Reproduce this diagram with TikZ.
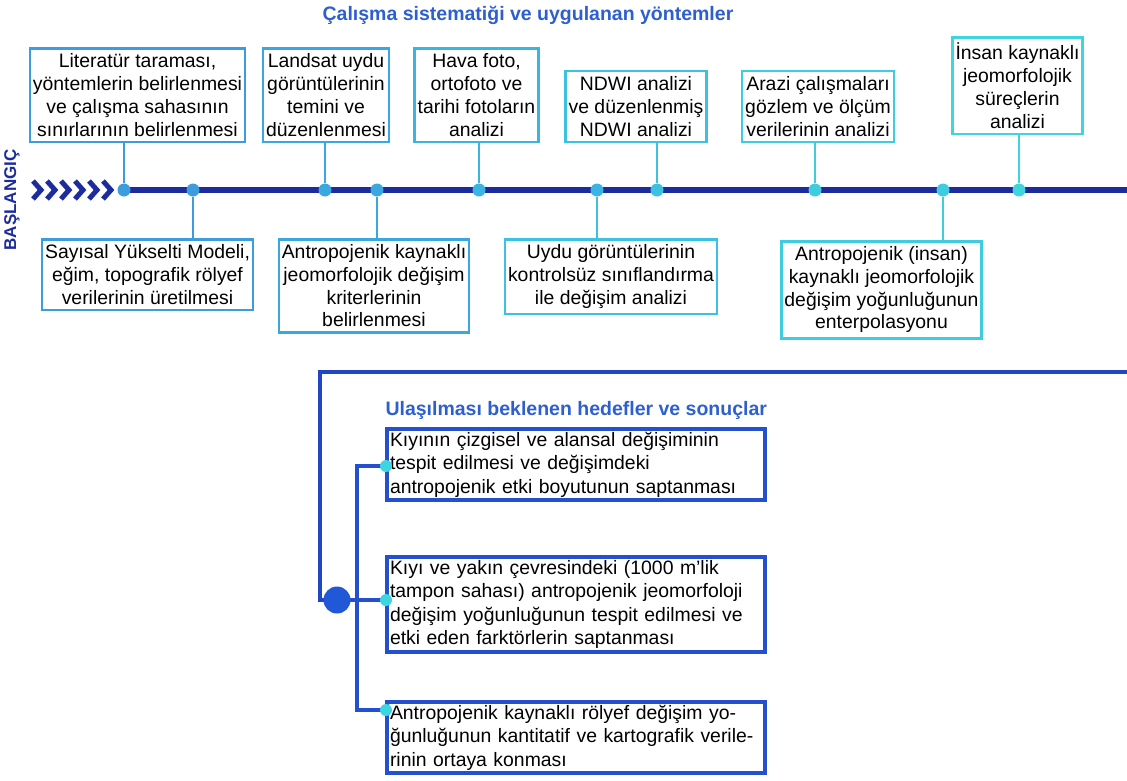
\documentclass[tikz,border=0pt]{standalone}
\usepackage{fontspec}
\setmainfont{Liberation Sans}
\usetikzlibrary{positioning, backgrounds}

\definecolor{navy}{HTML}{1C2C9C}
\definecolor{lineblue}{HTML}{2046C4}
\definecolor{titleblue}{HTML}{2E5FD0}
\definecolor{goalblue}{HTML}{2450D0}
\definecolor{bigdotblue}{HTML}{2158D8}
\definecolor{ca}{HTML}{3C9CDC}
\definecolor{cb}{HTML}{3AA8DE}
\definecolor{cc}{HTML}{3AB4E0}
\definecolor{cd}{HTML}{3CC2E0}
\definecolor{ce}{HTML}{3ECCDE}
\definecolor{cf}{HTML}{40D4DC}
\definecolor{tipcyan}{HTML}{3CD6E0}

\begin{document}
\begin{tikzpicture}[x=1pt, y=-1pt,
    box/.style={draw, rectangle, line width=2.5pt, fill=white, align=center, inner xsep=3pt,
        inner ysep=5.5pt, font=\fontsize{19.4}{22.7}\selectfont},
    goal/.style={draw=goalblue, rectangle, line width=4pt, align=left, text width=372pt,
        inner sep=3pt, font=\fontsize{19.4}{23.5}\selectfont},
    dot/.style={circle, inner sep=0pt, minimum size=13pt},
    tip/.style={circle, inner sep=0pt, minimum size=12pt, fill=tipcyan},
    link/.style={line width=2.5pt},
    heading/.style={text=titleblue, font=\bfseries\fontsize{19.5}{22}\selectfont}]
    \useasboundingbox (0,0) rectangle (1127,780);

    % Titles
    \node (title) [heading] at (528,15) {Çalışma sistematiği ve uygulanan yöntemler};
    \node (start) [text=navy, rotate=90, font=\bfseries\fontsize{17}{20}\selectfont] at (12,200) {BAŞLANGIÇ};

    % Chevrons
    \foreach \x in {33,47,61,75,89,103}
        \draw[navy, line width=5pt, line join=miter] (\x,181) -- (\x+8,190) -- (\x,199);

    % Timeline dots
    \node (d1) [dot, fill=ca] at (124,190) {};
    \node (d2) [dot, fill=ca] at (193,190) {};
    \node (d3) [dot, fill=cb] at (325,190) {};
    \node (d4) [dot, fill=cb] at (377,190) {};
    \node (d5) [dot, fill=cc] at (479,190) {};
    \node (d6) [dot, fill=cc] at (597,190) {};
    \node (d7) [dot, fill=cd] at (657,190) {};
    \node (d8) [dot, fill=ce] at (815,190) {};
    \node (d9) [dot, fill=ce] at (943,190) {};
    \node (d10) [dot, fill=cf] at (1019,190) {};
    \coordinate (tend) at (1127,190);

    % Upper boxes
    \node (lit) [box, draw=ca, anchor=south] at (137.5,143) {Literatür taraması,\\yöntemlerin belirlenmesi\\ve çalışma sahasının\\sınırlarının belirlenmesi};
    \node (landsat) [box, draw=cb, anchor=south] at (326,143) {Landsat uydu\\görüntülerinin\\temini ve\\düzenlenmesi};
    \node (hava) [box, draw=cc, anchor=south] at (476.5,143) {Hava foto,\\ortofoto ve\\tarihi fotoların\\analizi};
    \node (ndwi) [box, draw=cd, anchor=south] at (636,143) {NDWI analizi\\ve düzenlenmiş\\NDWI analizi};
    \node (arazi) [box, draw=ce, anchor=south] at (818,143) {Arazi çalışmaları\\gözlem ve ölçüm\\verilerinin analizi};
    \node (insan) [box, draw=cf, anchor=south] at (1017.5,135) {İnsan kaynaklı\\jeomorfolojik\\süreçlerin\\analizi};

    % Lower boxes
    \node (dem) [box, draw=ca, anchor=north] at (147.5,238) {Sayısal Yükselti Modeli,\\eğim, topografik rölyef\\verilerinin üretilmesi};
    \node (krit) [box, draw=cb, anchor=north] at (374,238) {Antropojenik kaynaklı\\jeomorfolojik değişim\\kriterlerinin\\belirlenmesi};
    \node (sinif) [box, draw=cd, anchor=north] at (611,238) {Uydu görüntülerinin\\kontrolsüz sınıflandırma\\ile değişim analizi};
    \node (enter) [box, draw=ce, anchor=north] at (881.5,240) {Antropojenik (insan)\\kaynaklı jeomorfolojik\\değişim yoğunluğunun\\enterpolasyonu};

    % Results
    \node (aim) [heading, anchor=west] at (382,410) {Ulaşılması beklenen hedefler ve sonuçlar};
    \node (r1) [goal, anchor=north west] at (385,427) {Kıyının çizgisel ve alansal değişiminin\\tespit edilmesi ve değişimdeki\\antropojenik etki boyutunun saptanması};
    \node (r2) [goal, anchor=north west] at (385,555) {Kıyı ve yakın çevresindeki (1000 m’lik\\tampon sahası) antropojenik jeomorfoloji\\değişim yoğunluğunun tespit edilmesi ve\\etki eden farktörlerin saptanması};
    \node (r3) [goal, anchor=north west] at (385,700) {Antropojenik kaynaklı rölyef değişim yo-\\ğunluğunun kantitatif ve kartografik verile-\\rinin ortaya konması};

    \node (hub) [circle, inner sep=0pt, minimum size=27pt, fill=bigdotblue] at (337,600) {};
    \node (t1) [tip] at (386,466) {};
    \node (t2) [tip] at (386,600) {};
    \node (t3) [tip] at (386,710) {};
    \coordinate (lend) at (1127,372);
    \coordinate (lturn) at (320,372);
    \coordinate (trunk) at (357,600);

    % Connections
    \begin{scope}[on background layer]
        \draw[navy, line width=5.5pt] (d1.center) -- (tend);
        \draw[link, ca] (d1) -- (d1 |- lit.south);
        \draw[link, ca] (d2) -- (d2 |- dem.north);
        \draw[link, cb] (d3) -- (d3 |- landsat.south);
        \draw[link, cb] (d4) -- (d4 |- krit.north);
        \draw[link, cc] (d5) -- (d5 |- hava.south);
        \draw[link, cd] (d6) -- (d6 |- sinif.north);
        \draw[link, cd] (d7) -- (d7 |- ndwi.south);
        \draw[link, ce] (d8) -- (d8 |- arazi.south);
        \draw[link, ce] (d9) -- (d9 |- enter.north);
        \draw[link, cf] (d10) -- (d10 |- insan.south);

        \draw[lineblue, line width=4.5pt] (lend) -- (lturn) |- (hub.center);
        \draw[goalblue, line width=4pt] (hub.center) -- (t2.center);
        \draw[goalblue, line width=4pt] (t1.center) -| (trunk);
        \draw[goalblue, line width=4pt] (t3.center) -| (trunk);
    \end{scope}
\end{tikzpicture}
\end{document}
